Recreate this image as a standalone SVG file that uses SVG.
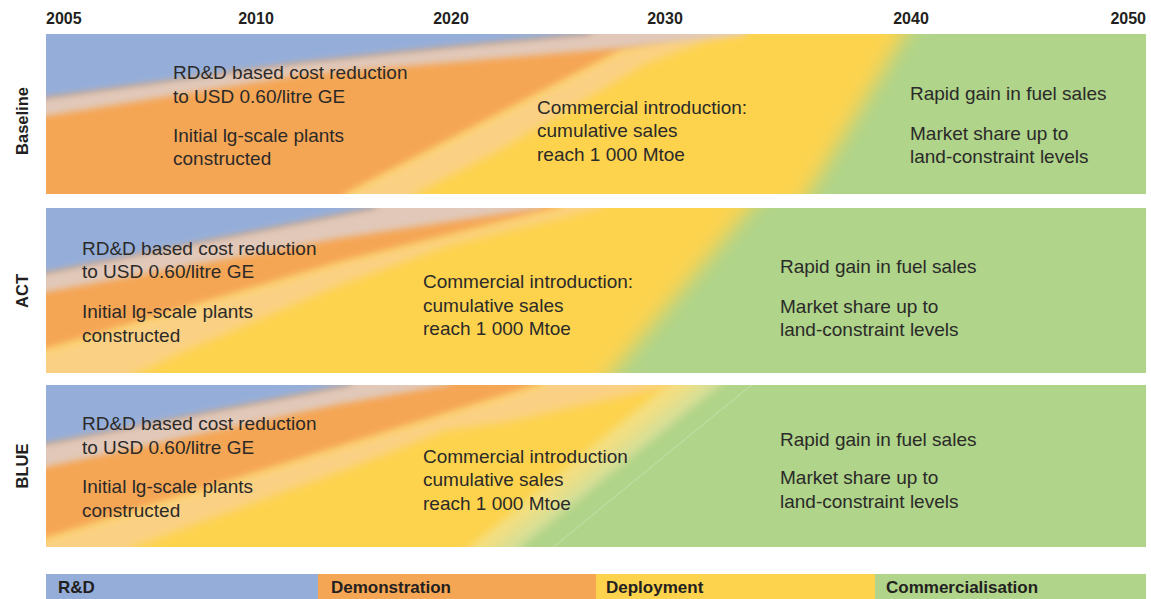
<svg xmlns="http://www.w3.org/2000/svg" width="1151" height="599" viewBox="0 0 1151 599">
<style>
.t{font-family:"Liberation Sans",Arial,sans-serif;font-size:19px;fill:#2b2a29}
.yr{font-family:"Liberation Sans",Arial,sans-serif;font-size:16px;font-weight:bold;fill:#231f20}
.side{font-family:"Liberation Sans",Arial,sans-serif;font-size:16.5px;font-weight:bold;fill:#231f20;text-anchor:middle}
.lg{font-family:"Liberation Sans",Arial,sans-serif;font-size:17px;font-weight:bold;fill:#231f20}
.blue{fill:#95AED9}.orange{fill:#F5A654}.yellow{fill:#FDD34E}.green{fill:#AFD48A}
.pbo{fill:#DFCCC4;opacity:0.9}.poy{fill:#FAD08E;opacity:0.85}
</style>
<defs>
<filter id="b3" x="-20%" y="-20%" width="140%" height="140%"><feGaussianBlur stdDeviation="3"/></filter>
<filter id="b4" x="-20%" y="-20%" width="140%" height="140%"><feGaussianBlur stdDeviation="4"/></filter>
<filter id="b10" x="-20%" y="-20%" width="140%" height="140%"><feGaussianBlur stdDeviation="10"/></filter>
<clipPath id="c1"><rect x="46" y="34" width="1100" height="160"/></clipPath>
<clipPath id="c2"><rect x="46" y="208" width="1100" height="165"/></clipPath>
<clipPath id="c3"><rect x="46" y="385" width="1100" height="162"/></clipPath>
</defs>
<rect x="0" y="0" width="1151" height="599" fill="#ffffff"/>

<g id="years">
<text class="yr" x="46" y="24">2005</text>
<text class="yr" x="256" y="24" text-anchor="middle">2010</text>
<text class="yr" x="451" y="24" text-anchor="middle">2020</text>
<text class="yr" x="665" y="24" text-anchor="middle">2030</text>
<text class="yr" x="911" y="24" text-anchor="middle">2040</text>
<text class="yr" x="1146" y="24" text-anchor="end">2050</text>
</g>

<g id="band-baseline">
<g clip-path="url(#c1)">
<rect class="yellow" x="46" y="34" width="1100" height="160"/>
<polygon class="green" filter="url(#b10)" points="917,14 1170,14 1170,214 796,214"/>
<polygon class="orange" filter="url(#b3)" points="20,14 720,14 712,34 690,37 623,50 347,194 335,214 20,214"/>
<polygon class="poy" filter="url(#b4)" points="335,214 347,194 623,50 690,37 712,34 720,14 760,14 745,34 710,40 647,63 500,150 415,194 405,214"/>
<polygon class="pbo" filter="url(#b3)" points="20,102 46,98 300,63 443,48 590,34 596,14 760,14 745,34 710,38 620,48 443,63 300,75 46,116 20,120"/>
<polygon class="blue" filter="url(#b3)" points="20,14 20,102 46,98 300,63 443,48 590,34 596,14"/>
</g>
<text class="side" transform="translate(28,121) rotate(-90)">Baseline</text>
<text class="t" x="173" y="79">RD&amp;D based cost reduction</text>
<text class="t" x="173" y="103">to USD 0.60/litre GE</text>
<text class="t" x="173" y="142">Initial lg-scale plants</text>
<text class="t" x="173" y="165">constructed</text>
<text class="t" x="537" y="114">Commercial introduction:</text>
<text class="t" x="537" y="137">cumulative sales</text>
<text class="t" x="537" y="161">reach 1 000 Mtoe</text>
<text class="t" x="910" y="100">Rapid gain in fuel sales</text>
<text class="t" x="910" y="140">Market share up to</text>
<text class="t" x="910" y="163">land-constraint levels</text>
</g>

<g id="band-act">
<g clip-path="url(#c2)">
<rect class="yellow" x="46" y="208" width="1100" height="165"/>
<polygon class="green" filter="url(#b10)" points="767,188 1170,188 1170,393 595,393"/>
<polygon class="orange" filter="url(#b3)" points="20,188 575,188 560,208 340,263 46,350 20,358"/>
<polygon class="poy" filter="url(#b4)" points="20,358 46,350 340,263 560,208 575,188 615,188 600,208 450,245 340,285 183,352 137,373 110,393 20,393"/>
<polygon class="pbo" filter="url(#b3)" points="20,278 46,273 340,215 375,208 385,188 560,188 540,208 340,238 46,292 20,297"/>
<polygon class="blue" filter="url(#b3)" points="20,188 20,278 46,273 340,215 375,208 385,188"/>
</g>
<text class="side" transform="translate(28,291) rotate(-90)">ACT</text>
<text class="t" x="82" y="255">RD&amp;D based cost reduction</text>
<text class="t" x="82" y="278">to USD 0.60/litre GE</text>
<text class="t" x="82" y="318">Initial lg-scale plants</text>
<text class="t" x="82" y="342">constructed</text>
<text class="t" x="423" y="288">Commercial introduction:</text>
<text class="t" x="423" y="312">cumulative sales</text>
<text class="t" x="423" y="335">reach 1 000 Mtoe</text>
<text class="t" x="780" y="273">Rapid gain in fuel sales</text>
<text class="t" x="780" y="313">Market share up to</text>
<text class="t" x="780" y="336">land-constraint levels</text>
</g>

<g id="band-blue">
<g clip-path="url(#c3)">
<rect class="yellow" x="46" y="385" width="1100" height="162"/>
<polygon class="green" filter="url(#b10)" points="725,365 1170,365 1170,567 475,567"/>
<polygon fill="#EEEAB0" opacity="0.5" filter="url(#b4)" points="455,567 470,547 667,385 680,365 740,365 720,385 520,547 505,567"/>
<line x1="545" y1="554" x2="760" y2="378" stroke="#ffffff" stroke-opacity="0.3" stroke-width="1"/>
<polygon class="orange" filter="url(#b3)" points="20,365 560,365 540,385 46,539 20,547"/>
<polygon class="poy" filter="url(#b4)" points="20,547 46,539 540,385 560,365 690,365 672,385 667,386 507,422 447,430 350,468 133,547 110,567 20,567"/>
<polygon class="pbo" filter="url(#b3)" points="20,449 46,444 340,387 350,385 360,365 470,365 447,385 340,404 46,467 20,473"/>
<polygon class="blue" filter="url(#b3)" points="20,365 20,449 46,444 340,387 350,385 360,365"/>
</g>
<text class="side" transform="translate(28,466) rotate(-90)">BLUE</text>
<text class="t" x="82" y="430">RD&amp;D based cost reduction</text>
<text class="t" x="82" y="454">to USD 0.60/litre GE</text>
<text class="t" x="82" y="493">Initial lg-scale plants</text>
<text class="t" x="82" y="517">constructed</text>
<text class="t" x="423" y="463">Commercial introduction</text>
<text class="t" x="423" y="486">cumulative sales</text>
<text class="t" x="423" y="510">reach 1 000 Mtoe</text>
<text class="t" x="780" y="446">Rapid gain in fuel sales</text>
<text class="t" x="780" y="484">Market share up to</text>
<text class="t" x="780" y="508">land-constraint levels</text>
</g>

<g id="legend">
<rect class="blue" x="46" y="574" width="272" height="25"/>
<rect class="orange" x="318" y="574" width="278" height="25"/>
<rect class="yellow" x="596" y="574" width="279" height="25"/>
<rect class="green" x="875" y="574" width="271" height="25"/>
<text class="lg" x="58" y="593">R&amp;D</text>
<text class="lg" x="331" y="593">Demonstration</text>
<text class="lg" x="606" y="593">Deployment</text>
<text class="lg" x="886" y="593">Commercialisation</text>
</g>
</svg>
